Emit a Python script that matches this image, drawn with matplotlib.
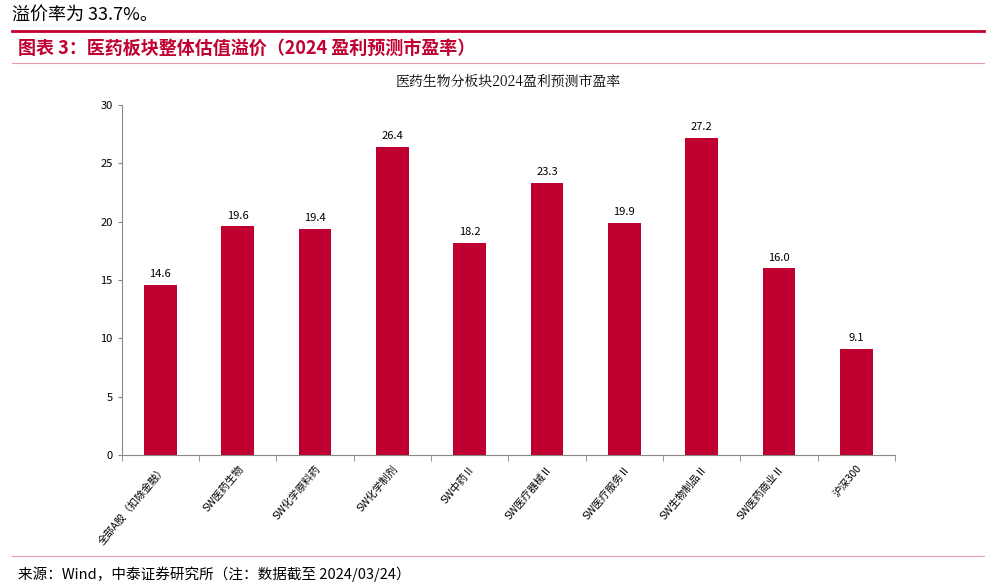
import matplotlib
matplotlib.use("Agg")
import matplotlib.pyplot as plt
import numpy as np

plt.rcParams["font.family"] = ["Noto Sans CJK SC", "DejaVu Sans"]

categories = ["全部A股（扣除金融）", "SW医药生物", "SW化学原料药", "SW化学制剂", "SW中药Ⅱ",
              "SW医疗器械Ⅱ", "SW医疗服务Ⅱ", "SW生物制品Ⅱ", "SW医药商业Ⅱ", "沪深300"]
pe_2024 = [14.6, 19.6, 19.4, 26.4, 18.2, 23.3, 19.9, 27.2, 16.0, 9.1]
yticks = [0, 5, 10, 15, 20, 25, 30]

RED = "#C00030"
fig = plt.figure(figsize=(9.89, 5.87), dpi=100)

# header texts and rules
fig.text(0.012, 0.975, "溢价率为 33.7%。", fontsize=13, va="center")
fig.add_artist(plt.Line2D([0.012, 0.995], [0.948, 0.948], color=RED, lw=2))
fig.text(0.018, 0.918, "图表 3：医药板块整体估值溢价（2024 盈利预测市盈率）", fontsize=13,
         color=RED, style="italic", weight="bold", va="center")
fig.add_artist(plt.Line2D([0.012, 0.995], [0.893, 0.893], color="#E8A0A8", lw=0.8))
fig.add_artist(plt.Line2D([0.012, 0.995], [0.052, 0.052], color="#E8A0A8", lw=0.8))
fig.text(0.018, 0.022, "来源：Wind，中泰证券研究所（注：数据截至 2024/03/24）", fontsize=10.5,
         va="center")

ax = fig.add_axes([0.123, 0.225, 0.782, 0.596])
x = np.arange(len(categories))
ax.bar(x, pe_2024, width=0.42, color=RED)
for xi, v in zip(x, pe_2024):
    ax.text(xi, v + 0.5, f"{v:.1f}", ha="center", va="bottom", fontsize=8)

ax.set_xlim(-0.5, len(categories) - 0.5)
ax.set_ylim(0, 30)
ax.set_yticks(yticks)
ax.tick_params(axis="y", labelsize=8, length=3, color="#888888")
ax.set_xticks(x)
ax.set_xticklabels(categories, rotation=50, ha="right", rotation_mode="anchor",
                   fontsize=7.5, style="italic")
ax.set_xticks(np.arange(-0.5, len(categories)), minor=True)
ax.tick_params(axis="x", which="major", length=0, pad=6)
ax.tick_params(axis="x", which="minor", length=4, color="#888888")
for s in ["top", "right"]:
    ax.spines[s].set_visible(False)
for s in ["left", "bottom"]:
    ax.spines[s].set_color("#888888")
ax.set_title("医药生物分板块2024盈利预测市盈率", fontsize=10, family=["Noto Serif CJK SC", "Noto Sans CJK SC"], pad=14)

fig.savefig("out.png", dpi=100)
